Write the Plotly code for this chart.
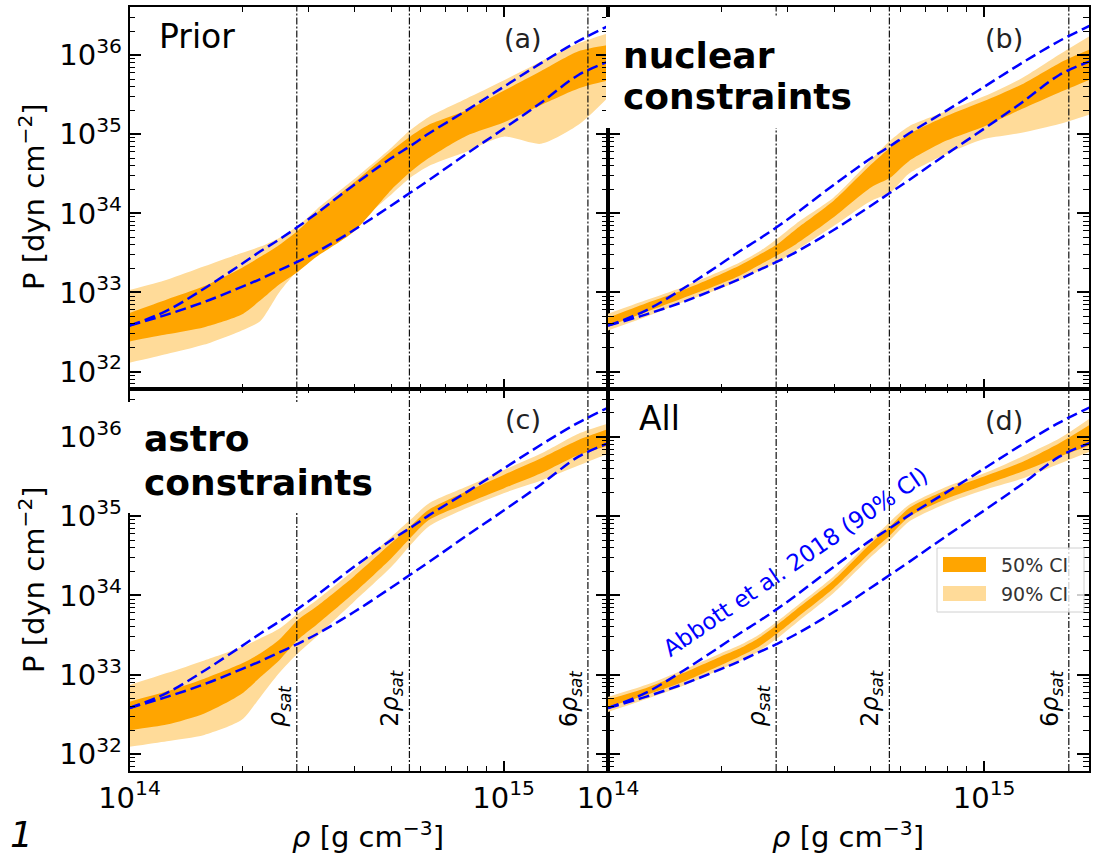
import math
import plotly.graph_objects as go

# ---------------- data ----------------
# density grid, log10(rho / g cm^-3)
LOG_RHO = [14.0, 14.1, 14.2, 14.3, 14.35, 14.4, 14.45, 14.5, 14.6, 14.7,
           14.75, 14.8, 14.9, 15.0, 15.1, 15.2, 15.28]

# Abbott et al. 2018 (90% CI) bounds, log10(P / dyn cm^-2)
ABBOTT_HI = [32.58, 32.77, 33.05, 33.36, 33.52, 33.67, 33.83, 34.00, 34.36, 34.70,
             34.85, 35.01, 35.30, 35.60, 35.90, 36.18, 36.37]
ABBOTT_LO = [32.58, 32.72, 32.88, 33.07, 33.17, 33.28, 33.39, 33.51, 33.79, 34.10,
             34.26, 34.42, 34.75, 35.07, 35.40, 35.75, 35.92]

# (a) Prior
A90_HI = [33.03, 33.16, 33.33, 33.50, 33.58, 33.69, 33.84, 34.05, 34.43, 34.83,
          35.05, 35.22, 35.45, 35.68, 35.92, 36.15, 36.28]
A50_HI = [32.74, 32.91, 33.08, 33.31, 33.45, 33.60, 33.78, 34.00, 34.39, 34.79,
          34.97, 35.12, 35.30, 35.55, 35.80, 36.05, 36.13]
A50_LO = [32.38, 32.47, 32.56, 32.72, 32.90, 33.10, 33.26, 33.45, 33.77, 34.30,
          34.52, 34.70, 34.98, 35.15, 35.37, 35.58, 35.68]
A90_LO = [32.11, 32.22, 32.34, 32.52, 32.64, 33.00, 33.28, 33.47, 33.84, 34.24,
          34.45, 34.60, 34.78, 34.97, 34.88, 35.12, 35.47]

# (b) nuclear constraints
B90_HI = [32.73, 32.90, 33.07, 33.27, 33.38, 33.51, 33.68, 33.87, 34.20, 34.68,
          34.92, 35.10, 35.29, 35.48, 35.71, 36.01, 36.24]
B50_HI = [32.68, 32.86, 33.03, 33.23, 33.34, 33.47, 33.61, 33.80, 34.16, 34.62,
          34.83, 35.00, 35.23, 35.42, 35.63, 35.90, 36.07]
B50_LO = [32.57, 32.75, 32.93, 33.11, 33.21, 33.34, 33.47, 33.61, 33.95, 34.33,
          34.45, 34.66, 34.92, 35.10, 35.32, 35.53, 35.69]
B90_LO = [32.52, 32.69, 32.88, 33.05, 33.15, 33.27, 33.38, 33.53, 33.84, 34.16,
          34.26, 34.50, 34.75, 34.94, 35.02, 35.13, 35.25]

# (c) astro constraints
C90_HI = [32.87, 33.02, 33.18, 33.35, 33.46, 33.58, 33.77, 33.94, 34.32, 34.74,
          34.95, 35.16, 35.37, 35.58, 35.79, 36.04, 36.17]
C50_HI = [32.66, 32.79, 32.95, 33.14, 33.27, 33.44, 33.69, 33.86, 34.24, 34.66,
          34.87, 35.08, 35.31, 35.52, 35.73, 35.96, 36.10]
C50_LO = [32.30, 32.37, 32.51, 32.76, 32.97, 33.18, 33.44, 33.63, 34.03, 34.47,
          34.72, 34.95, 35.16, 35.35, 35.54, 35.77, 35.89]
C90_LO = [32.09, 32.16, 32.24, 32.43, 32.72, 33.02, 33.27, 33.48, 33.92, 34.36,
          34.63, 34.87, 35.10, 35.29, 35.45, 35.64, 35.79]

# (d) All
D90_HI = [32.72, 32.87, 33.06, 33.27, 33.37, 33.50, 33.67, 33.86, 34.24, 34.70,
          34.93, 35.14, 35.37, 35.54, 35.75, 35.98, 36.23]
D50_HI = [32.69, 32.83, 33.02, 33.23, 33.33, 33.46, 33.63, 33.82, 34.19, 34.66,
          34.87, 35.10, 35.33, 35.50, 35.68, 35.92, 36.15]
D50_LO = [32.59, 32.74, 32.91, 33.12, 33.23, 33.35, 33.52, 33.71, 34.09, 34.55,
          34.76, 34.99, 35.22, 35.39, 35.56, 35.75, 35.89]
D90_LO = [32.53, 32.69, 32.86, 33.07, 33.17, 33.29, 33.46, 33.65, 34.03, 34.49,
          34.70, 34.93, 35.16, 35.33, 35.47, 35.66, 35.81]

RHO_SAT = 2.8e14
SAT_MULTIPLES = [1, 2, 6]
SAT_LABELS = ["<i>ρ</i><sub><i>sat</i></sub>",
              "2<i>ρ</i><sub><i>sat</i></sub>",
              "6<i>ρ</i><sub><i>sat</i></sub>"]
X_TICKS = [1e14, 1e15]
X_TICKTEXT = ["10<sup>14</sup>", "10<sup>15</sup>"]
Y_TICKS = [1e32, 1e33, 1e34, 1e35, 1e36]
Y_TICKTEXT = ["10<sup>32</sup>", "10<sup>33</sup>", "10<sup>34</sup>",
              "10<sup>35</sup>", "10<sup>36</sup>"]
X_RANGE = [14.0, 15.279]
Y_RANGE = [31.785, 36.61]

PANELS = [
    dict(name="(a)", x="x", y="y", bands=(A90_LO, A90_HI, A50_LO, A50_HI)),
    dict(name="(b)", x="x2", y="y2", bands=(B90_LO, B90_HI, B50_LO, B50_HI)),
    dict(name="(c)", x="x3", y="y3", bands=(C90_LO, C90_HI, C50_LO, C50_HI)),
    dict(name="(d)", x="x4", y="y4", bands=(D90_LO, D90_HI, D50_LO, D50_HI)),
]

DARK = "#FFA500"
LIGHT = "#FFDB99"
FONT = "DejaVu Sans"

W, H = 1097, 853
def px(x):
    return x / W
def py(y):
    return 1 - y / H

rho = [10.0 ** v for v in LOG_RHO]
def P(arr):
    return [10.0 ** v for v in arr]

SPL = dict(shape="spline", smoothing=0.7)

fig = go.Figure()
for p in PANELS:
    lo90, hi90, lo50, hi50 = p["bands"]
    ax = dict(xaxis=p["x"], yaxis=p["y"])
    fig.add_trace(go.Scatter(x=rho, y=P(lo90), mode="lines", line=dict(width=0, **SPL),
                             hoverinfo="skip", showlegend=False, **ax))
    fig.add_trace(go.Scatter(x=rho, y=P(hi90), mode="lines", line=dict(width=0, **SPL),
                             fill="tonexty", fillcolor=LIGHT, showlegend=False, **ax))
    fig.add_trace(go.Scatter(x=rho, y=P(lo50), mode="lines", line=dict(width=0, **SPL),
                             hoverinfo="skip", showlegend=False, **ax))
    fig.add_trace(go.Scatter(x=rho, y=P(hi50), mode="lines", line=dict(width=0, **SPL),
                             fill="tonexty", fillcolor=DARK, showlegend=False, **ax))
    # saturation-density markers
    for m in SAT_MULTIPLES:
        fig.add_trace(go.Scatter(x=[m * RHO_SAT, m * RHO_SAT],
                                 y=[10.0 ** Y_RANGE[0], 10.0 ** Y_RANGE[1]],
                                 mode="lines", hoverinfo="skip", showlegend=False,
                                 line=dict(color="#111111", width=1.2,
                                           dash="7px,2px,2px,2px"), **ax))
    for arr in (ABBOTT_HI, ABBOTT_LO):
        fig.add_trace(go.Scatter(x=rho, y=P(arr), mode="lines",
                                 line=dict(color="blue", width=2.5, dash="11px,5px",
                                           shape="spline", smoothing=1.0),
                                 showlegend=False, **ax))

# domains (pixels -> paper)
XL = [px(129.5), px(608)]
XR = [px(608), px(1089)]
YT = [py(388.5), py(7)]
YB = [py(771), py(388.5)]

def minor_vals(lo, hi):
    return [float(k) * 10.0 ** e for e in range(lo, hi) for k in range(2, 10)]

def xaxis(domain, anchor, labels):
    return dict(type="log", range=X_RANGE, domain=domain, anchor=anchor,
                automargin=False,
                showline=True, linecolor="black", linewidth=1.5, mirror="allticks",
                ticks="inside", ticklen=10, tickwidth=1.5, tickcolor="black",
                tickvals=X_TICKS, ticktext=X_TICKTEXT, showticklabels=labels,
                showgrid=False, zeroline=False,
                tickfont=dict(family=FONT, size=29, color="black"),
                minor=dict(ticks="inside", ticklen=5, tickwidth=1, tickcolor="black",
                           tickvals=minor_vals(14, 16), showgrid=False))

def yaxis(domain, anchor, labels):
    return dict(type="log", range=Y_RANGE, domain=domain, anchor=anchor,
                automargin=False,
                showline=True, linecolor="black", linewidth=1.5, mirror="allticks",
                ticks="inside", ticklen=12, tickwidth=1.5, tickcolor="black",
                tickvals=Y_TICKS, ticktext=Y_TICKTEXT, showticklabels=labels,
                showgrid=False, zeroline=False,
                tickfont=dict(family=FONT, size=29, color="black"),
                minor=dict(ticks="inside", ticklen=6, tickwidth=1, tickcolor="black",
                           tickvals=minor_vals(31, 37), showgrid=False))

fig.update_layout(
    template="none",
    xaxis=xaxis(XL, "y", False), yaxis=yaxis(YT, "x", True),
    xaxis2=xaxis(XR, "y2", False), yaxis2=yaxis(YT, "x2", False),
    xaxis3=xaxis(XL, "y3", True), yaxis3=yaxis(YB, "x3", True),
    xaxis4=xaxis(XR, "y4", True), yaxis4=yaxis(YB, "x4", False),
)

shapes = []
annotations = []
for i, p in enumerate(PANELS):
    if i < 2:
        continue
    for m, lab in zip(SAT_MULTIPLES, SAT_LABELS):
        annotations.append(dict(xref=p["x"], yref=p["y"], x=math.log10(m * RHO_SAT),
                                y=32.33, text=lab, textangle=-90, showarrow=False,
                                xanchor="right", yanchor="bottom", xshift=-1,
                                borderpad=0,
                                font=dict(family=FONT, size=24, color="black")))

# white boxes behind the big overlay captions
shapes.append(dict(type="rect", xref="paper", yref="paper",
                   x0=px(606), x1=px(875), y0=py(128), y1=py(17),
                   fillcolor="white", line=dict(width=0), layer="above"))
shapes.append(dict(type="rect", xref="paper", yref="paper",
                   x0=px(124), x1=px(392), y0=py(513), y1=py(402),
                   fillcolor="white", line=dict(width=0), layer="above"))

# legend (panel d)
shapes.append(dict(type="rect", xref="paper", yref="paper",
                   x0=px(937), x1=px(1084), y0=py(612), y1=py(548),
                   fillcolor="rgba(255,255,255,0.8)", line=dict(color="#d0d0d0", width=1),
                   layer="above"))
shapes.append(dict(type="rect", xref="paper", yref="paper",
                   x0=px(943), x1=px(986), y0=py(572), y1=py(557),
                   fillcolor=DARK, line=dict(width=0), layer="above"))
shapes.append(dict(type="rect", xref="paper", yref="paper",
                   x0=px(943), x1=px(986), y0=py(601), y1=py(586),
                   fillcolor=LIGHT, line=dict(width=0), layer="above"))
annotations.append(dict(xref="paper", yref="paper", x=px(999), y=py(565), text="50% CI",
                        showarrow=False, xanchor="left", yanchor="middle",
                        font=dict(family=FONT, size=19, color="#333333")))
annotations.append(dict(xref="paper", yref="paper", x=px(999), y=py(594), text="90% CI",
                        showarrow=False, xanchor="left", yanchor="middle",
                        font=dict(family=FONT, size=19, color="#333333")))

def txt(x, y, text, size, xanchor="center", bold=False, color="black", angle=0):
    annotations.append(dict(xref="paper", yref="paper", x=px(x), y=py(y),
                            text=("<b>%s</b>" % text) if bold else text,
                            showarrow=False, xanchor=xanchor, yanchor="middle",
                            textangle=angle,
                            font=dict(family=FONT, size=size, color=color)))

# panel letters
txt(523, 38, "(a)", 27, color="#222222")
txt(1004, 38, "(b)", 27, color="#222222")
txt(523, 420, "(c)", 27, color="#222222")
txt(1004, 421, "(d)", 27, color="#222222")
# panel captions
txt(157, 36, "Prior", 33, xanchor="left")
txt(637, 418, "All", 33, xanchor="left")
txt(621, 55, "nuclear", 36, xanchor="left", bold=True)
txt(621, 97, "constraints", 36, xanchor="left", bold=True)
txt(142, 438, "astro", 36, xanchor="left", bold=True)
txt(142, 482, "constraints", 36, xanchor="left", bold=True)
# Abbott label
txt(795, 562, "Abbott et al. 2018 (90% CI)", 23, color="blue", angle=-34.5)
# axis titles
txt(32, 197, "P [dyn cm<sup>−2</sup>]", 29, angle=-90)
txt(32, 580, "P [dyn cm<sup>−2</sup>]", 29, angle=-90)
txt(368, 835, "<i>ρ</i> [g cm<sup>−3</sup>]", 29)
txt(848, 835, "<i>ρ</i> [g cm<sup>−3</sup>]", 29)
# handwritten page number
txt(8, 834, "<i>1</i>", 36, xanchor="left")

fig.update_layout(width=W, height=H, margin=dict(l=0, r=0, t=0, b=0, pad=0),
                  paper_bgcolor="white", plot_bgcolor="white",
                  showlegend=False, shapes=shapes, annotations=annotations)

fig.write_html("out.html", config={"displayModeBar": False},
               post_script="document.body.style.margin='0px';"
                           "document.body.style.overflow='hidden';")
